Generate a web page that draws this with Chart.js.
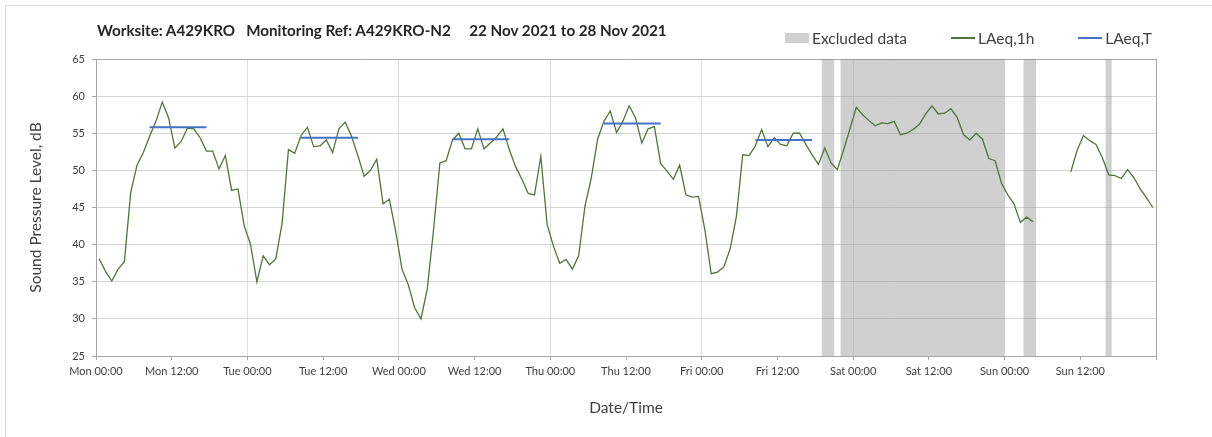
<!DOCTYPE html>
<html>
<head>
<meta charset="utf-8">
<script src="https://cdn.jsdelivr.net/npm/chart.js@4.4.0/dist/chart.umd.min.js"></script>
<style>
  html, body { margin: 0; padding: 0; background: #fff; overflow: hidden; }
  #wrap { position: relative; width: 1212px; height: 437px; }
  #frame { position: absolute; left: 5px; top: 5px; width: 1300px; height: 500px; border: 1px solid #d9d9d9; }
  #title { position: absolute; left: 97px; top: 21px; font: bold 15.2px Lato, sans-serif; color: #262626; white-space: pre; }
  #legend { position: absolute; right: 60px; top: 29px; display: flex; align-items: center; font: 15.5px Lato, sans-serif; color: #404040; }
  #legend .item { display: flex; align-items: center; margin-left: 44px; }
  #legend .item:first-child { margin-left: 0; }
  #legend .mark { display: inline-block; width: 24px; margin-right: 3px; }
  canvas { position: absolute; left: 0; top: 0; }
</style>
</head>
<body>
<div id="wrap">
  <div id="frame"></div>
  <canvas id="noiseChart" width="1212" height="437"></canvas>
  <div id="title">Worksite: A429KRO   Monitoring Ref: A429KRO-N2     22 Nov 2021 to 28 Nov 2021</div>
  <div id="legend"></div>
</div>
<script>
// hourly LAeq,1h values, Mon 00:00 .. Sun 23:00 (null = no data)
const laeq1h = [
  38.1, 36.4, 35.1, 36.7, 37.7, 47.0, 50.7, 52.4, 54.6, 56.6, 59.2, 57.1,
  53.0, 53.9, 55.7, 55.6, 54.4, 52.6, 52.6, 50.2, 52.0, 47.3, 47.5, 42.5,
  40.0, 35.0, 38.5, 37.3, 38.1, 42.9, 52.8, 52.3, 54.7, 55.8, 53.2, 53.3,
  54.1, 52.4, 55.6, 56.5, 54.6, 52.0, 49.2, 50.0, 51.5, 45.5, 46.1, 41.8,
  36.7, 34.6, 31.5, 30.0, 34.0, 42.0, 51.0, 51.3, 54.1, 55.0, 52.9, 52.9,
  55.6, 52.9, 53.7, 54.5, 55.6, 52.8, 50.5, 48.8, 46.9, 46.7, 51.9, 42.7,
  39.8, 37.5, 38.0, 36.7, 38.5, 45.2, 49.0, 54.2, 56.6, 58.0, 55.1, 56.6,
  58.7, 57.1, 53.7, 55.6, 55.9, 50.9, 49.9, 48.8, 50.7, 46.7, 46.4, 46.5,
  42.0, 36.1, 36.3, 37.0, 39.4, 43.8, 52.1, 52.0, 53.3, 55.5, 53.2, 54.4,
  53.5, 53.3, 55.0, 55.0, 53.5, 52.1, 50.8, 53.0, 51.0, 50.1, 52.8, 55.6,
  58.5, 57.5, 56.7, 56.0, 56.4, 56.3, 56.6, 54.8, 55.0, 55.5, 56.2, 57.6,
  58.7, 57.6, 57.7, 58.3, 57.1, 54.8, 54.1, 55.0, 54.2, 51.6, 51.3, 48.3,
  46.7, 45.5, 43.0, 43.7, 43.1, null, null, null, null, null, 49.8, 52.7,
  54.7, 54.0, 53.5, 51.7, 49.4, 49.3, 48.9, 50.1, 49.0, 47.5, 46.3, 45.0
];

// LAeq,T over the daytime periods (hours from Mon 00:00)
const periodFrom = [8, 32, 56, 80, 104];
const periodTo = [18, 42, 66, 90, 114];
const laeqT = [55.8, 54.4, 54.2, 56.3, 54.1];

// excluded data ranges (hours from Mon 00:00)
const excludedFrom = [115, 118, 147, 160];
const excludedTo = [117, 144, 149, 161];

const xTickLabels = [
  'Mon 00:00', 'Mon 12:00', 'Tue 00:00', 'Tue 12:00', 'Wed 00:00', 'Wed 12:00',
  'Thu 00:00', 'Thu 12:00', 'Fri 00:00', 'Fri 12:00', 'Sat 00:00', 'Sat 12:00',
  'Sun 00:00', 'Sun 12:00'
];

const yMin = 25, yMax = 65;

const hourlyPts = laeq1h.map((v, i) => ({ x: i + 0.5, y: v }));

const periodPts = [];
laeqT.forEach((v, k) => {
  periodPts.push({ x: periodFrom[k] + 0.5, y: v }, { x: periodTo[k] - 0.5, y: v }, { x: periodTo[k], y: null });
});

const bandPts = [];
excludedFrom.forEach((s, k) => {
  const e = excludedTo[k];
  bandPts.push({ x: s, y: yMin }, { x: s, y: yMax }, { x: e, y: yMax }, { x: e, y: yMin });
});

// legend built as html from the chart datasets
const htmlLegend = {
  id: 'htmlLegend',
  afterUpdate(chart) {
    const box = document.getElementById('legend');
    box.innerHTML = '';
    chart.data.datasets.forEach(ds => {
      const item = document.createElement('div');
      item.className = 'item';
      const mark = document.createElement('span');
      mark.className = 'mark';
      if (ds.fill) {
        mark.style.height = '10px';
        mark.style.background = ds.backgroundColor;
      } else {
        mark.style.height = ds.borderWidth + 'px';
        mark.style.background = ds.borderColor;
      }
      const txt = document.createElement('span');
      txt.textContent = ds.label;
      item.appendChild(mark);
      item.appendChild(txt);
      box.appendChild(item);
    });
  }
};

const tickFont = { family: 'Lato', size: 11 };
const axisTitleFont = { family: 'Lato', size: 15.5 };

new Chart(document.getElementById('noiseChart'), {
  type: 'line',
  data: {
    datasets: [
      {
        label: 'Excluded data',
        data: bandPts,
        fill: 'start',
        backgroundColor: 'rgba(150, 150, 150, 0.45)',
        borderColor: 'transparent',
        borderWidth: 0,
        pointRadius: 0
      },
      {
        label: 'LAeq,1h',
        data: hourlyPts,
        borderColor: '#517538',
        borderWidth: 1.3,
        pointRadius: 0,
        spanGaps: false,
        fill: false
      },
      {
        label: 'LAeq,T',
        data: periodPts,
        borderColor: '#4472c4',
        borderWidth: 2,
        pointRadius: 0,
        spanGaps: false,
        fill: false,
        order: -1
      }
    ]
  },
  options: {
    responsive: false,
    animation: false,
    layout: { padding: { top: 59, right: 56, bottom: 0, left: 0 } },
    plugins: {
      legend: { display: false },
      tooltip: { enabled: false },
      filler: { drawTime: 'beforeDatasetsDraw' }
    },
    scales: {
      x: {
        type: 'linear',
        min: 0,
        max: 168,
        afterFit: s => { s.height = 81; },
        ticks: {
          stepSize: 12,
          autoSkip: false,
          maxRotation: 0,
          minRotation: 0,
          padding: 5,
          color: '#404040',
          font: tickFont,
          callback: v => xTickLabels[v / 12] || ''
        },
        grid: {
          tickLength: 4,
          tickColor: '#a6a6a6',
          color: c => {
            const v = c.tick ? c.tick.value : 0;
            if (v === 168) return '#a6a6a6';
            if (v % 24 === 0 && v > 0) return '#dedede';
            return 'transparent';
          }
        },
        border: { color: '#a6a6a6' },
        title: {
          display: true,
          text: 'Date/Time',
          color: '#404040',
          font: axisTitleFont,
          padding: { top: 0, bottom: 20 }
        }
      },
      y: {
        min: yMin,
        max: yMax,
        afterFit: s => { s.width = 96; },
        ticks: {
          stepSize: 5,
          padding: 7,
          color: '#404040',
          font: tickFont
        },
        grid: {
          tickLength: 4,
          tickColor: '#a6a6a6',
          color: c => (c.tick && c.tick.value === yMax ? '#a6a6a6' : '#d6d6d6')
        },
        border: { color: '#a6a6a6' },
        title: {
          display: true,
          text: 'Sound Pressure Level, dB',
          color: '#404040',
          font: axisTitleFont,
          padding: { top: 27, bottom: 0 }
        }
      }
    }
  },
  plugins: [htmlLegend]
});
</script>
</body>
</html>
